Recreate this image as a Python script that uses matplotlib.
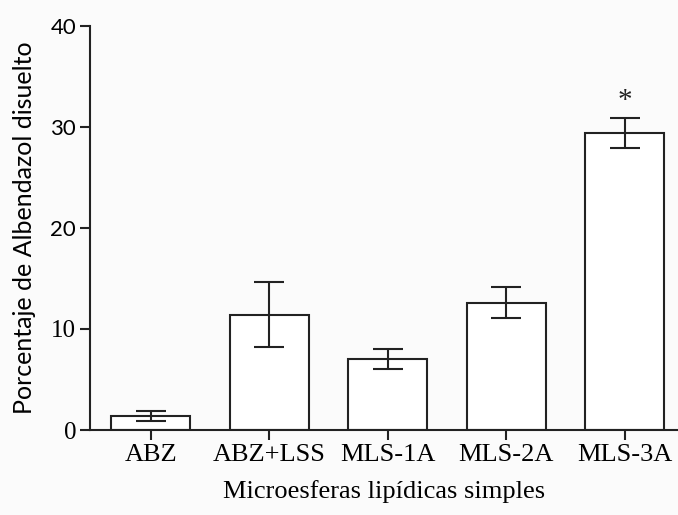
import matplotlib.pyplot as plt

###: Data
categories = ['ABZ', 'ABZ+LSS', 'MLS-1A', 'MLS-2A', 'MLS-3A']
values = [1.4, 11.4, 7.0, 12.6, 29.4]
errors = [0.5, 3.2, 1.0, 1.55, 1.5]
yticks = [0, 10, 20, 30, 40]

###: Plot
fig = plt.figure(figsize=(6.78, 5.15), dpi=100)
fig.patch.set_facecolor('#fbfbfb')
ax = fig.add_axes([0.1327, 0.165, 0.8673, 0.785])
ax.set_facecolor('#fbfbfb')

x = range(len(categories))
ax.bar(x, values, width=0.667, color='white', edgecolor='#222222', linewidth=1.5,
       yerr=errors, error_kw=dict(ecolor='#222222', elinewidth=1.5, capsize=11, capthick=1.5))

# significance mark
ax.text(4, values[4] + errors[4] + 1.7, '*', ha='center', va='center',
        fontsize=21, family='Liberation Serif', color='#222222')

ax.set_xlim(-0.515, 4.45)
ax.set_ylim(0, 40)
ax.set_yticks(yticks)
ax.set_xticks(list(x))
ax.set_xticklabels(categories, family='Liberation Serif', fontsize=19)
ax.set_yticklabels([str(t) for t in yticks])
# the upper y labels are set in a sans face, the lower ones in serif
for t, lab in zip(yticks, ax.get_yticklabels()):
    if t >= 20:
        lab.set_family('Lato')
        lab.set_fontsize(16)
    else:
        lab.set_family('Liberation Serif')
        lab.set_fontsize(18)

for s in ['top', 'right']:
    ax.spines[s].set_visible(False)
for s in ['left', 'bottom']:
    ax.spines[s].set_linewidth(1.5)
    ax.spines[s].set_color('#222222')
ax.tick_params(axis='both', direction='out', length=7, width=1.5, color='#222222', pad=3)

ax.set_xlabel('Microesferas lipídicas simples', family='Liberation Serif', fontsize=19, labelpad=10)
ax.set_ylabel('Porcentaje de Albendazol disuelto', family='Lato', fontsize=18, labelpad=10)

plt.savefig('out.png', dpi=100, facecolor=fig.get_facecolor())
